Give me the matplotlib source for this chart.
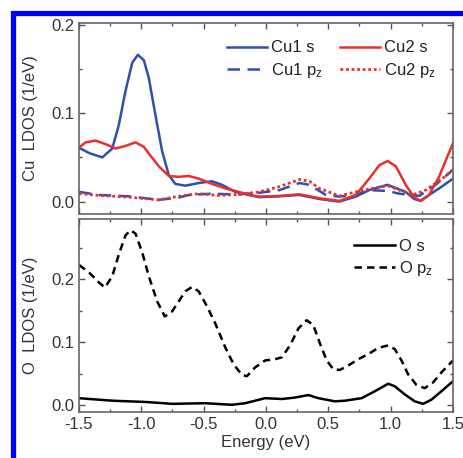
import matplotlib
matplotlib.use("Agg")
import matplotlib.pyplot as plt
from matplotlib.patches import Rectangle
from matplotlib.ticker import MultipleLocator

plt.rcParams['font.family'] = ['Liberation Sans', 'DejaVu Sans']
plt.rcParams['mathtext.fontset'] = 'custom'
plt.rcParams['mathtext.rm'] = 'Liberation Sans'
plt.rcParams['mathtext.it'] = 'Liberation Sans'

# ---- data ----
cu1s_E = [-1.5, -1.42, -1.313, -1.233, -1.18, -1.127, -1.073, -1.028, -0.98, -0.94, -0.887, -0.833, -0.78, -0.727, -0.647, -0.54, -0.433, -0.353, -0.247, -0.14, -0.052, 0.108, 0.268, 0.428, 0.588, 0.721, 0.828, 0.975, 1.12, 1.188, 1.241, 1.308, 1.4, 1.5]
cu1s_v = [0.061, 0.055, 0.050, 0.060, 0.087, 0.125, 0.157, 0.166, 0.160, 0.140, 0.098, 0.057, 0.030, 0.020, 0.018, 0.021, 0.023, 0.019, 0.011, 0.0075, 0.005, 0.006, 0.0075, 0.003, 0.0, 0.0057, 0.013, 0.019, 0.011, 0.003, 0.0008, 0.0075, 0.016, 0.026]

cu2s_E = [-1.5, -1.447, -1.367, -1.287, -1.207, -1.127, -1.047, -0.98, -0.927, -0.86, -0.78, -0.7, -0.62, -0.54, -0.433, -0.327, -0.22, -0.113, -0.052, 0.108, 0.268, 0.428, 0.588, 0.721, 0.828, 0.908, 0.975, 1.041, 1.121, 1.188, 1.241, 1.308, 1.388, 1.455, 1.5]
cu2s_v = [0.061, 0.067, 0.069, 0.065, 0.060, 0.063, 0.067, 0.062, 0.052, 0.040, 0.029, 0.028, 0.029, 0.026, 0.020, 0.015, 0.011, 0.007, 0.0057, 0.0064, 0.0083, 0.0038, 0.0008, 0.0075, 0.026, 0.041, 0.046, 0.040, 0.019, 0.0049, 0.0008, 0.0075, 0.028, 0.051, 0.066]

cu1pz_E = [-1.5, -1.34, -1.1, -0.86, -0.7, -0.62, -0.433, -0.247, -0.052, 0.108, 0.268, 0.348, 0.481, 0.588, 0.721, 0.828, 0.975, 1.068, 1.228, 1.361, 1.5]
cu1pz_v = [0.011, 0.0075, 0.006, 0.002, 0.0045, 0.0075, 0.009, 0.008, 0.010, 0.013, 0.021, 0.019, 0.0075, 0.0057, 0.0075, 0.013, 0.012, 0.009, 0.0064, 0.019, 0.036]

cu2pz_E = [-1.5, -1.34, -1.1, -0.86, -0.7, -0.54, -0.38, -0.22, -0.052, 0.108, 0.268, 0.348, 0.428, 0.588, 0.721, 0.855, 0.975, 1.068, 1.175, 1.281, 1.415, 1.5]
cu2pz_v = [0.009, 0.007, 0.005, 0.002, 0.006, 0.009, 0.007, 0.008, 0.011, 0.017, 0.025, 0.023, 0.015, 0.0064, 0.011, 0.015, 0.018, 0.013, 0.0075, 0.013, 0.026, 0.036]

os_E = [-1.5, -1.233, -0.967, -0.753, -0.487, -0.273, -0.167, -0.007, 0.127, 0.233, 0.34, 0.42, 0.553, 0.633, 0.767, 0.873, 0.98, 1.033, 1.113, 1.193, 1.26, 1.327, 1.407, 1.5]
os_v = [0.011, 0.007, 0.005, 0.002, 0.003, 0.0005, 0.003, 0.011, 0.0097, 0.012, 0.016, 0.011, 0.006, 0.007, 0.011, 0.022, 0.034, 0.030, 0.017, 0.006, 0.002, 0.0086, 0.022, 0.038]

opz_E = [-1.5, -1.42, -1.34, -1.292, -1.233, -1.18, -1.127, -1.087, -1.047, -0.993, -0.94, -0.873, -0.812, -0.753, -0.7, -0.647, -0.593, -0.54, -0.473, -0.407, -0.327, -0.26, -0.193, -0.153, -0.087, -0.007, 0.073, 0.127, 0.193, 0.26, 0.327, 0.38, 0.433, 0.487, 0.54, 0.593, 0.66, 0.74, 0.82, 0.9, 0.98, 1.033, 1.087, 1.14, 1.207, 1.273, 1.34, 1.407, 1.5]
opz_v = [0.223, 0.211, 0.195, 0.187, 0.205, 0.240, 0.270, 0.278, 0.273, 0.243, 0.205, 0.165, 0.141, 0.149, 0.165, 0.181, 0.188, 0.181, 0.157, 0.130, 0.092, 0.065, 0.048, 0.046, 0.060, 0.071, 0.073, 0.076, 0.095, 0.122, 0.135, 0.127, 0.098, 0.071, 0.057, 0.056, 0.063, 0.073, 0.081, 0.091, 0.095, 0.089, 0.071, 0.049, 0.032, 0.027, 0.036, 0.052, 0.071]

xticks = [-1.5, -1.0, -0.5, 0.0, 0.5, 1.0, 1.5]
xticklabels = ['-1.5', '-1.0', '-0.5', '0.0', '0.5', '1.0', '1.5']
yticks = [0.0, 0.1, 0.2]
yticklabels = ['0.0', '0.1', '0.2']

BLUE = '#2f4fae'
RED = '#e8302c'
FS = 12

fig = plt.figure(figsize=(4.63, 4.58), dpi=100)
ax1 = fig.add_axes([0.1706, 0.5328, 0.8078, 0.4170])
ax2 = fig.add_axes([0.1706, 0.1004, 0.8078, 0.4214])

kw = dict(solid_joinstyle='round', dash_joinstyle='round')
l1, = ax1.plot(cu1s_E, cu1s_v, color=BLUE, lw=1.8, label='Cu1 s', **kw)
l3, = ax1.plot(cu1pz_E, cu1pz_v, color=BLUE, lw=1.8, ls=(0, (5, 3)), label=r'Cu1 $\mathregular{p_z}$', **kw)
l2, = ax1.plot(cu2s_E, cu2s_v, color=RED, lw=1.8, label='Cu2 s', **kw)
l4, = ax1.plot(cu2pz_E, cu2pz_v, color=RED, lw=2.0, ls=(0, (1, 1)), label=r'Cu2 $\mathregular{p_z}$', **kw)

ax2.plot(os_E, os_v, color='black', lw=1.8, label='O s', **kw)
ax2.plot(opz_E, opz_v, color='black', lw=1.8, ls=(0, (3, 2)), label=r'O $\mathregular{p_z}$', **kw)

for ax in (ax1, ax2):
    ax.set_xlim(-1.5, 1.5)
    ax.xaxis.set_major_locator(MultipleLocator(0.5))
    ax.xaxis.set_minor_locator(MultipleLocator(0.25))
    ax.yaxis.set_major_locator(MultipleLocator(0.1))
    ax.yaxis.set_minor_locator(MultipleLocator(0.05))
    ax.tick_params(which='both', direction='in', top=True, right=True,
                   color='#555555', labelcolor='#333333', labelsize=FS)
    ax.tick_params(which='major', length=4.5, width=1)
    ax.tick_params(which='minor', length=2.5, width=1)
    for s in ax.spines.values():
        s.set_color('#666666')
        s.set_linewidth(1.2)

ax1.set_ylim(-0.014, 0.202)
ax2.set_ylim(-0.011, 0.296)
ax1.set_yticks(yticks)
ax1.set_yticklabels(yticklabels)
ax2.set_yticks(yticks)
ax2.set_yticklabels(yticklabels)
ax1.tick_params(labelbottom=False)
ax2.set_xticks(xticks)
ax2.set_xticklabels(xticklabels)

ax1.set_ylabel('Cu  LDOS (1/eV)', fontsize=FS, color='#333333')
ax2.set_ylabel('O  LDOS (1/eV)', fontsize=FS, color='#333333')
ax2.set_xlabel('Energy (eV)', fontsize=FS, color='#333333', labelpad=2)
ax1.yaxis.set_label_coords(-0.11, 0.5)
ax2.yaxis.set_label_coords(-0.11, 0.5)

ax1.legend(handles=[l1, l3, l2, l4], ncol=2, loc='upper right', frameon=False,
           fontsize=FS, handlelength=2.4, handletextpad=0.25, columnspacing=1.0,
           labelspacing=0.35, borderaxespad=0.65, labelcolor='#222222')
ax2.legend(loc='upper right', frameon=False, fontsize=FS, handlelength=2.5,
           handletextpad=0.2, labelspacing=0.3, borderaxespad=0.8, labelcolor='#222222')

fig.patches.append(Rectangle((12.5 / 463, -0.2), 1.5, 1.2 - 12.5 / 458,
                             transform=fig.transFigure, fill=False,
                             edgecolor='#0000ff', linewidth=3.8, zorder=10))

fig.savefig('out.png', dpi=100)
